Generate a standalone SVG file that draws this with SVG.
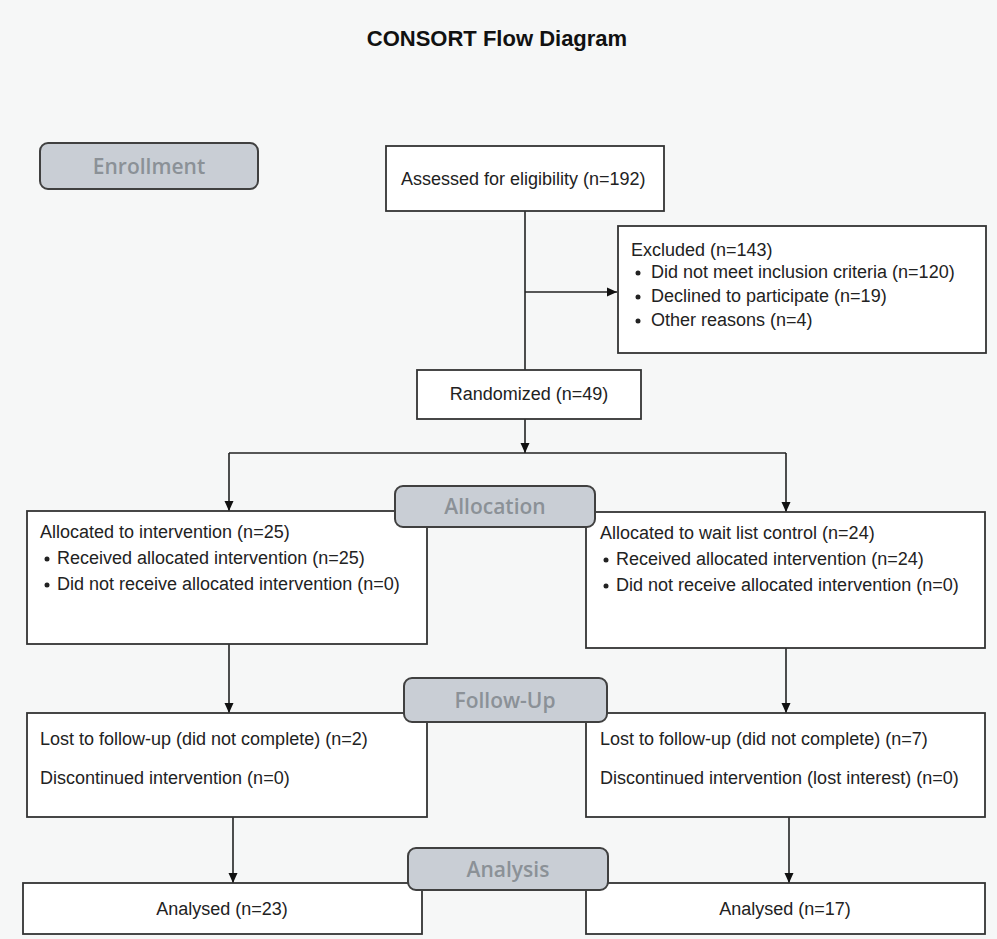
<svg xmlns="http://www.w3.org/2000/svg" width="997" height="939" viewBox="0 0 997 939">
<style>
.box{fill:#ffffff;stroke:#333333;stroke-width:1.8}
.stage{fill:#c9ced5;stroke:#404040;stroke-width:2}
.stxt{font-family:"Open Sans","Liberation Sans",sans-serif;font-weight:600;font-size:21px;fill:#8b9197;text-anchor:middle;dominant-baseline:central}
.t{font-family:"Liberation Sans",Arial,sans-serif;font-size:18px;fill:#222222;dominant-baseline:central}
.c{text-anchor:middle}
.title{font-family:"Liberation Sans",Arial,sans-serif;font-weight:bold;font-size:22px;fill:#111111;text-anchor:middle;dominant-baseline:central}
.ln{stroke:#222222;stroke-width:1.6;fill:none}
.bul{fill:#222222}
</style>
<defs>
<marker id="ah" markerWidth="12" markerHeight="12" refX="10" refY="6" orient="auto" markerUnits="userSpaceOnUse">
<path d="M0,1.5 L10,6 L0,10.5 Z" fill="#111111"/>
</marker>
</defs>
<rect x="0" y="0" width="997" height="939" fill="#f6f7f7"/>
<text class="title" x="497" y="38">CONSORT Flow Diagram</text>

<g id="connectors">
<line class="ln" x1="525" y1="211" x2="525" y2="370"/>
<line class="ln" x1="525" y1="292" x2="617" y2="292" marker-end="url(#ah)"/>
<line class="ln" x1="525" y1="419" x2="525" y2="453" marker-end="url(#ah)"/>
<line class="ln" x1="229" y1="453" x2="786" y2="453"/>
<line class="ln" x1="229" y1="453" x2="229" y2="511" marker-end="url(#ah)"/>
<line class="ln" x1="786" y1="453" x2="786" y2="512" marker-end="url(#ah)"/>
<line class="ln" x1="229" y1="644" x2="229" y2="713" marker-end="url(#ah)"/>
<line class="ln" x1="786" y1="648" x2="786" y2="713" marker-end="url(#ah)"/>
<line class="ln" x1="233" y1="817" x2="233" y2="883" marker-end="url(#ah)"/>
<line class="ln" x1="789" y1="817" x2="789" y2="883" marker-end="url(#ah)"/>
</g>

<g id="enrollment">
<rect class="stage" x="40" y="143" width="218" height="46" rx="8"/>
<text class="stxt" x="149" y="166">Enrollment</text>
</g>

<g id="assessed">
<rect class="box" x="386" y="146" width="278" height="65"/>
<text class="t" x="401" y="179">Assessed for eligibility (n=192)</text>
</g>

<g id="excluded">
<rect class="box" x="618" y="226" width="368" height="127"/>
<text class="t" x="631" y="250">Excluded (n=143)</text>
<circle class="bul" cx="638" cy="273" r="2.5"/>
<text class="t" x="651" y="272">Did not meet inclusion criteria (n=120)</text>
<circle class="bul" cx="638" cy="297" r="2.5"/>
<text class="t" x="651" y="296">Declined to participate (n=19)</text>
<circle class="bul" cx="638" cy="321" r="2.5"/>
<text class="t" x="651" y="320">Other reasons (n=4)</text>
</g>

<g id="randomized">
<rect class="box" x="417" y="370" width="224" height="49"/>
<text class="t c" x="529" y="394">Randomized (n=49)</text>
</g>

<g id="alloc-left">
<rect class="box" x="27" y="511" width="400" height="133"/>
<text class="t" x="40" y="532">Allocated to intervention (n=25)</text>
<circle class="bul" cx="47" cy="559" r="2.5"/>
<text class="t" x="57" y="558">Received allocated intervention (n=25)</text>
<circle class="bul" cx="47" cy="585" r="2.5"/>
<text class="t" x="57" y="584">Did not receive allocated intervention (n=0)</text>
</g>

<g id="alloc-right">
<rect class="box" x="586" y="512" width="399" height="136"/>
<text class="t" x="600" y="533">Allocated to wait list control (n=24)</text>
<circle class="bul" cx="606" cy="560" r="2.5"/>
<text class="t" x="616" y="559">Received allocated intervention (n=24)</text>
<circle class="bul" cx="606" cy="586" r="2.5"/>
<text class="t" x="616" y="585">Did not receive allocated intervention (n=0)</text>
</g>

<g id="allocation">
<rect class="stage" x="395" y="486" width="200" height="41" rx="8"/>
<text class="stxt" x="495" y="506">Allocation</text>
</g>

<g id="follow-left">
<rect class="box" x="27" y="713" width="400" height="104"/>
<text class="t" x="40" y="739">Lost to follow-up (did not complete) (n=2)</text>
<text class="t" x="40" y="778">Discontinued intervention (n=0)</text>
</g>

<g id="follow-right">
<rect class="box" x="586" y="713" width="399" height="104"/>
<text class="t" x="600" y="739">Lost to follow-up (did not complete) (n=7)</text>
<text class="t" x="600" y="778">Discontinued intervention (lost interest) (n=0)</text>
</g>

<g id="followup">
<rect class="stage" x="404" y="678" width="203" height="44" rx="8"/>
<text class="stxt" x="505" y="700">Follow-Up</text>
</g>

<g id="analysed-left">
<rect class="box" x="23" y="883" width="399" height="51"/>
<text class="t c" x="222" y="909">Analysed (n=23)</text>
</g>

<g id="analysed-right">
<rect class="box" x="586" y="883" width="399" height="51"/>
<text class="t c" x="785" y="909">Analysed (n=17)</text>
</g>

<g id="analysis">
<rect class="stage" x="408" y="848" width="200" height="42" rx="8"/>
<text class="stxt" x="508" y="869">Analysis</text>
</g>
</svg>
